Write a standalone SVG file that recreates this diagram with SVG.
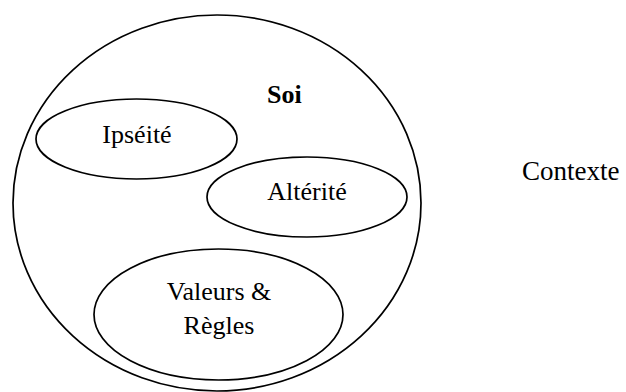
<svg xmlns="http://www.w3.org/2000/svg" width="626" height="392" viewBox="0 0 626 392">
<style>
.sh{fill:none;stroke:#000;stroke-width:1.7}
.t{font-family:'Liberation Serif','Times New Roman',Times,'DejaVu Serif',serif;font-size:26px;fill:#000}
.b{font-weight:bold}
</style>
<rect width="626" height="392" fill="#fff"/>
<g id="soi">
<ellipse class="sh" cx="217" cy="203" rx="204" ry="188"/>
<text class="t b" x="267" y="103">Soi</text>
</g>
<g id="ipseite">
<ellipse class="sh" cx="136.5" cy="139" rx="100.5" ry="40"/>
<text class="t" x="137" y="143" text-anchor="middle">Ipséité</text>
</g>
<g id="alterite">
<ellipse class="sh" cx="307" cy="197" rx="100" ry="40"/>
<text class="t" x="307" y="200" text-anchor="middle">Altérité</text>
</g>
<g id="valeurs">
<ellipse class="sh" cx="218.5" cy="314.5" rx="124.5" ry="65.5"/>
<text class="t" x="219" y="300" text-anchor="middle">Valeurs &amp;</text>
<text class="t" x="219" y="334" text-anchor="middle">Règles</text>
</g>
<g id="contexte">
<text class="t" x="522" y="180" style="font-size:27px">Contexte</text>
</g>
<g id="connectors"/>
</svg>
